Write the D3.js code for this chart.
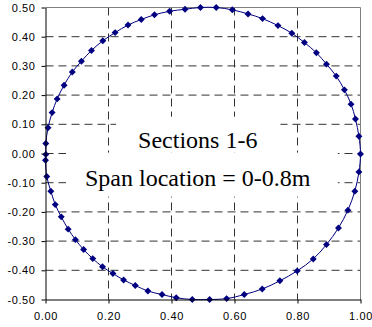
<!DOCTYPE html>
<html>
<head>
<meta charset="utf-8">
<script src="https://cdn.jsdelivr.net/npm/d3@7"></script>
<style>
  body { margin: 0; background: #fff; }
  .tick text { font-family: "Liberation Sans", Arial, sans-serif; font-size: 11px; letter-spacing: 0.6px; fill: #000; }
  .note { font-family: "Liberation Serif", "Times New Roman", serif; font-size: 24px; fill: #000; }
</style>
</head>
<body>
<svg id="chart" width="372" height="327"></svg>
<script>
// section outline points (x, y), anticlockwise from the right
const xVals = [1.000, 0.995, 0.984, 0.970, 0.949, 0.923, 0.892, 0.860, 0.822, 0.782,
  0.738, 0.689, 0.643, 0.593, 0.542, 0.492, 0.443, 0.394, 0.346, 0.304,
  0.262, 0.221, 0.182, 0.146, 0.114, 0.085, 0.059, 0.037, 0.021, 0.008,
  0.001, 0.001, 0.000, 0.004, 0.017, 0.031, 0.050, 0.072, 0.095, 0.121,
  0.150, 0.181, 0.214, 0.248, 0.285, 0.325, 0.370, 0.415, 0.466, 0.521,
  0.575, 0.631, 0.688, 0.744, 0.799, 0.850, 0.892, 0.930, 0.960, 0.982, 0.995];
const yVals = [-0.002, 0.059, 0.118, 0.169, 0.218, 0.265, 0.306, 0.345, 0.380, 0.412,
  0.438, 0.462, 0.478, 0.492, 0.500, 0.500, 0.494, 0.487, 0.475, 0.459,
  0.440, 0.414, 0.386, 0.353, 0.316, 0.279, 0.234, 0.187, 0.140, 0.088,
  0.034, -0.003, -0.023, -0.079, -0.129, -0.175, -0.217, -0.259, -0.295, -0.329,
  -0.360, -0.388, -0.411, -0.433, -0.452, -0.471, -0.483, -0.494, -0.500, -0.500,
  -0.497, -0.483, -0.464, -0.436, -0.402, -0.361, -0.312, -0.255, -0.194, -0.129, -0.063];

const xTicks = [0, 0.2, 0.4, 0.6, 0.8, 1.0];
const yTicks = [-0.5, -0.4, -0.3, -0.2, -0.1, 0, 0.1, 0.2, 0.3, 0.4, 0.5];
const noteLines = ["Sections 1-6", "Span location = 0-0.8m"];

const margin = {top: 7.5, right: 11.5, bottom: 27.5, left: 45.5},
    width = 372 - margin.left - margin.right,
    height = 327 - margin.top - margin.bottom;

const svg = d3.select('#chart')
    .append('g')
    .attr('transform', 'translate(' + margin.left + ',' + margin.top + ')');

const x = d3.scaleLinear().domain([0, 1]).range([0, width]);
const y = d3.scaleLinear().domain([-0.5, 0.5]).range([height, 0]);

const fmt = d3.formatLocale({decimal: '.', thousands: ',', grouping: [3], currency: ['', ''], minus: '-'}).format('.2f');

// dashed grid
svg.append('g').selectAll('line')
    .data(xTicks.slice(1, -1))
    .join('line')
    .attr('x1', d => x(d)).attr('x2', d => x(d))
    .attr('y1', 0).attr('y2', height)
    .attr('stroke', '#333').attr('stroke-dasharray', '8,5');

svg.append('g').selectAll('line')
    .data(yTicks.slice(1, -1))
    .join('line')
    .attr('y1', d => y(d)).attr('y2', d => y(d))
    .attr('x1', 0).attr('x2', width)
    .attr('stroke', '#333').attr('stroke-dasharray', '8,5');

// frame top / right
svg.append('path')
    .attr('d', 'M0,0H' + width + 'V' + height)
    .attr('fill', 'none').attr('stroke', '#808080');

// text boxes with white background
const pads = [{l: 22, r: 23, t: 10, b: 0}, {l: 19, r: 27, t: 12, b: 6}];
const noteY = [0.02, -0.11];
const boxG = svg.append('g');
const notes = svg.append('g').selectAll('text')
    .data(noteLines)
    .join('text')
    .attr('class', 'note')
    .attr('text-anchor', 'middle')
    .attr('x', x(0.485) - 0.5)
    .attr('y', (d, i) => y(noteY[i]))
    .text(d => d);

notes.each(function(d, i) {
    const b = this.getBBox(), p = pads[i];
    boxG.append('rect')
        .attr('x', b.x - p.l).attr('y', b.y - p.t)
        .attr('width', b.width + p.l + p.r).attr('height', b.height + p.t + p.b)
        .attr('fill', '#fff');
});

// outline
const pts = xVals.map((d, i) => [d, yVals[i]]);
const line = d3.line()
    .x(d => x(d[0]))
    .y(d => y(d[1]))
    .curve(d3.curveCatmullRomClosed);

svg.append('path')
    .datum(pts)
    .attr('d', line)
    .attr('fill', 'none')
    .attr('stroke', '#000080')
    .attr('stroke-width', 1);

svg.append('g').selectAll('path')
    .data(pts)
    .join('path')
    .attr('d', d3.symbol(d3.symbolSquare, 24))
    .attr('transform', d => 'translate(' + x(d[0]) + ',' + y(d[1]) + ') rotate(45)')
    .attr('fill', '#000080');

// axes
svg.append('g')
    .attr('transform', 'translate(0,' + height + ')')
    .call(d3.axisBottom(x).tickValues(xTicks).tickFormat(fmt).tickSize(4).tickSizeOuter(0).tickPadding(9))
    .call(g => g.select('.domain').attr('stroke', '#000'));

svg.append('g')
    .call(d3.axisLeft(y).tickValues(yTicks).tickFormat(fmt).tickSize(4).tickSizeOuter(0).tickPadding(6))
    .call(g => g.select('.domain').attr('stroke', '#000'));
</script>
</body>
</html>
